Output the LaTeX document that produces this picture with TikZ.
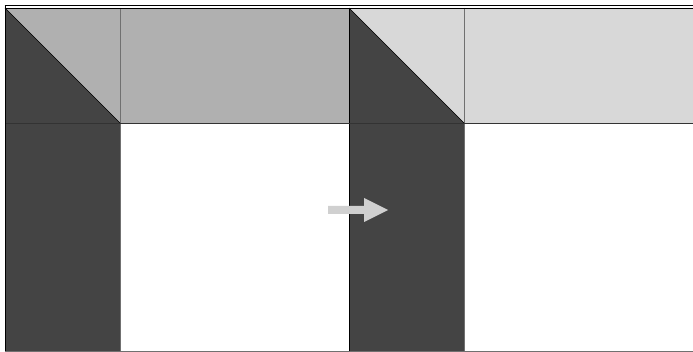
\documentclass[tikz,border=0pt]{standalone}
\begin{document}
\begin{tikzpicture}[x=1pt,y=-1pt]
\definecolor{darkc}{HTML}{444444}
\definecolor{midc}{HTML}{B0B0B0}
\definecolor{lightc}{HTML}{D8D8D8}
\definecolor{arrowc}{HTML}{D0D0D0}
\definecolor{gridc}{HTML}{707070}
\tikzset{gridline/.style={draw=gridc,line width=0.8pt}}
\useasboundingbox[fill=white] (0,0) rectangle (693,352);
% top row
\fill[midc] (5,8) rectangle (349,123);
\fill[lightc] (349,8) rectangle (693,123);
\fill[darkc] (5,8) -- (120,123) -- (5,123) -- cycle;
\fill[darkc] (349,8) -- (464,123) -- (349,123) -- cycle;
% bottom row
\fill[darkc] (5,123) rectangle (120,352);
\fill[darkc] (349,123) rectangle (464,352);
% grid lines
\draw[gridline] (120,8) -- (120,352);
\draw[gridline] (464,8) -- (464,352);
\draw[black,line width=0.6pt] (349,8) -- (349,352);
\draw[black,line width=0.6pt] (5,8) -- (120,123);
\draw[black,line width=0.6pt] (349,8) -- (464,123);
\draw[line width=0.8pt,draw=black!80] (5,123) -- (693,123);
\draw[black,line width=1pt] (4.5,6) -- (693,6);
\draw[black,line width=0.7pt] (4.5,8.5) -- (693,8.5);
\draw[black,line width=1pt] (5,6) -- (5,352);
\draw[gridc,line width=1pt] (5,351.5) -- (693,351.5);
% arrow
\fill[arrowc] (328,206) -- (364,206) -- (364,198) -- (388,210) -- (364,222) -- (364,214) -- (328,214) -- cycle;
\end{tikzpicture}
\end{document}
